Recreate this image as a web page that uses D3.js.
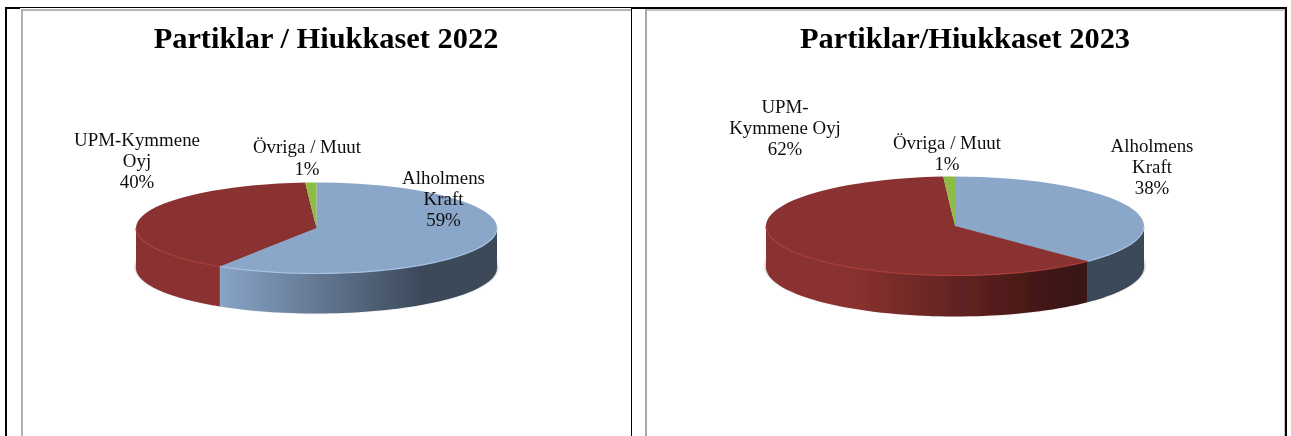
<!DOCTYPE html>
<html>
<head>
<meta charset="utf-8">
<script src="https://cdn.jsdelivr.net/npm/d3@7"></script>
<style>
  html, body { margin: 0; padding: 0; background: #fff; }
  svg { display: block; }
  text { font-family: "Liberation Serif", serif; fill: #111; }
  .title { font-size: 30.4px; font-weight: bold; text-anchor: middle; fill: #000; }
  .label { font-size: 18.9px; text-anchor: middle; }
</style>
</head>
<body>
<div id="chart"></div>
<script>
const categories = ['Alholmens Kraft', 'UPM-Kymmene Oyj', 'Övriga / Muut'];
const values2022 = [59, 40, 1];
const values2023 = [38, 62, 1];
const labels2022 = [['Alholmens', 'Kraft', '59%'], ['UPM-Kymmene', 'Oyj', '40%'], ['Övriga / Muut', '1%']];
const labels2023 = [['Alholmens', 'Kraft', '38%'], ['UPM-', 'Kymmene Oyj', '62%'], ['Övriga / Muut', '1%']];
const colors = ['#8aa6c9', '#8a3230', '#8cbc45'];
const darkColors = ['#3b4859', '#3a1412', '#4d6a25'];
const rimColors = ['#a9c3e2', '#a93c38', '#a5d35c'];

const width = 1291;
const height = 436;

const svg = d3.select('#chart')
  .append('svg')
  .attr('width', width)
  .attr('height', height);

const defs = svg.append('defs');

// Image in the original is slightly soft
defs.append('filter').attr('id', 'soft')
  .attr('x', '-5%').attr('y', '-5%').attr('width', '110%').attr('height', '110%')
  .append('feGaussianBlur').attr('stdDeviation', 0.55);

defs.append('filter').attr('id', 'soft-text')
  .attr('x', '-5%').attr('y', '-10%').attr('width', '110%').attr('height', '120%')
  .append('feGaussianBlur').attr('stdDeviation', 0.3);

defs.append('filter').attr('id', 'shadow')
  .attr('x', '-5%').attr('y', '-20%').attr('width', '110%').attr('height', '140%')
  .append('feGaussianBlur').attr('stdDeviation', 1.2);

// Page frame around the two charts
const frame = svg.append('g').attr('class', 'frame');

function frameRect(x, y, w, h, fill) {
  frame.append('rect').attr('x', x).attr('y', y).attr('width', w).attr('height', h).attr('fill', fill);
}

frameRect(21, 9, 610, 2, '#b4b4b4');
frameRect(21, 9, 2, 427, '#b0b0b0');
frameRect(645, 9, 639, 2, '#c4c4c4');
frameRect(645, 9, 2, 427, '#a8a8a8');
frameRect(1284, 9, 1, 427, '#c8c8c8');
frameRect(5, 7, 1281, 1, '#000');
frameRect(5, 7, 15, 2, '#000');
frameRect(631, 7, 655, 2, '#000');
frameRect(5, 7, 2, 429, '#000');
frameRect(631, 7, 1, 429, '#000');
frameRect(1285, 7, 2, 429, '#000');

function drawPie(options) {
  const { values, labels, title, titleX, cx, cy, rx, ry, depth, labelPos } = options;

  const g = svg.append('g').attr('class', 'pie-chart');

  g.append('text')
    .attr('class', 'title')
    .attr('x', titleX)
    .attr('y', 48)
    .attr('filter', 'url(#soft-text)')
    .text(title);

  const pie = d3.pie().sort(null);
  const slices = pie(values).map((d, i) => ({ ...d, index: i, name: categories[i] }));

  const px = a => rx * Math.sin(a);
  const py = a => -ry * Math.cos(a);

  const plot = g.append('g')
    .attr('transform', `translate(${cx},${cy})`)
    .attr('filter', 'url(#soft)');

  // Soft shadow peeking out at the sides of the disc
  plot.append('ellipse')
    .attr('cx', 0).attr('cy', depth - 1)
    .attr('rx', rx + 0.8).attr('ry', ry)
    .attr('fill', '#a8a8a8')
    .attr('filter', 'url(#shadow)');

  // Side wall: only the front half of the disc is visible
  const sideArea = d3.area()
    .x(a => px(a))
    .y0(a => py(a))
    .y1(a => py(a) + depth);

  const edgeLine = d3.line()
    .x(a => px(a))
    .y(a => py(a));

  const frontAngles = d => {
    const a0 = Math.max(d.startAngle, Math.PI / 2);
    const a1 = Math.min(d.endAngle, Math.PI * 1.5);
    if (a1 <= a0) return null;
    return d3.range(0, 61).map(k => a0 + (a1 - a0) * k / 60);
  };

  const front = slices.filter(d => frontAngles(d));

  // Gradient spans the pie's width, not the slice's
  const sideScale = d3.scaleLinear().domain([0, 1]).range([-rx, rx]);
  front.forEach(d => {
    const id = `side-${title.slice(-4)}-${d.index}`;
    const grad = defs.append('linearGradient')
      .attr('id', id)
      .attr('gradientUnits', 'userSpaceOnUse')
      .attr('x1', sideScale(0)).attr('x2', sideScale(1))
      .attr('y1', 0).attr('y2', 0);
    grad.append('stop').attr('offset', 0.22).attr('stop-color', colors[d.index]);
    grad.append('stop').attr('offset', 0.8).attr('stop-color', darkColors[d.index]);
    d.gradId = id;
  });

  plot.selectAll('.side')
    .data(front)
    .join('path')
    .attr('class', 'side')
    .attr('d', d => sideArea(frontAngles(d)))
    .attr('fill', d => `url(#${d.gradId})`);

  // Top face, d3.arc drawn as circle and squashed to an ellipse
  const arc = d3.arc().innerRadius(0).outerRadius(rx);

  plot.append('g')
    .attr('transform', `scale(1,${ry / rx})`)
    .selectAll('.top')
    .data(slices)
    .join('path')
    .attr('class', 'top')
    .attr('data-category', d => d.name)
    .attr('d', arc)
    .attr('fill', d => colors[d.index]);

  // Light bevel line along the front edge
  plot.selectAll('.rim')
    .data(front)
    .join('path')
    .attr('class', 'rim')
    .attr('d', d => edgeLine(frontAngles(d)))
    .attr('fill', 'none')
    .attr('stroke', d => rimColors[d.index])
    .attr('stroke-width', 1.2);

  // Data labels
  labels.forEach((lines, i) => {
    const pos = labelPos[i];
    g.append('text')
      .attr('class', 'label')
      .attr('transform', `translate(${pos.x},${pos.y})`)
      .attr('filter', 'url(#soft-text)')
      .selectAll('tspan')
      .data(lines)
      .join('tspan')
      .attr('x', 0)
      .attr('y', (d, k) => k * pos.step)
      .text(d => d);
  });
}

drawPie({
  values: values2022,
  labels: labels2022,
  title: 'Partiklar / Hiukkaset 2022',
  titleX: 326,
  cx: 316.5, cy: 228, rx: 180.5, ry: 45.5, depth: 40,
  labelPos: [
    { x: 443.5, y: 184, step: 21 },
    { x: 137, y: 146, step: 21 },
    { x: 307, y: 153, step: 22 }
  ]
});

drawPie({
  values: values2023,
  labels: labels2023,
  title: 'Partiklar/Hiukkaset 2023',
  titleX: 965,
  cx: 955, cy: 226, rx: 189, ry: 49.5, depth: 41,
  labelPos: [
    { x: 1152, y: 152, step: 21 },
    { x: 785, y: 113, step: 21 },
    { x: 947, y: 149, step: 21 }
  ]
});
</script>
</body>
</html>
